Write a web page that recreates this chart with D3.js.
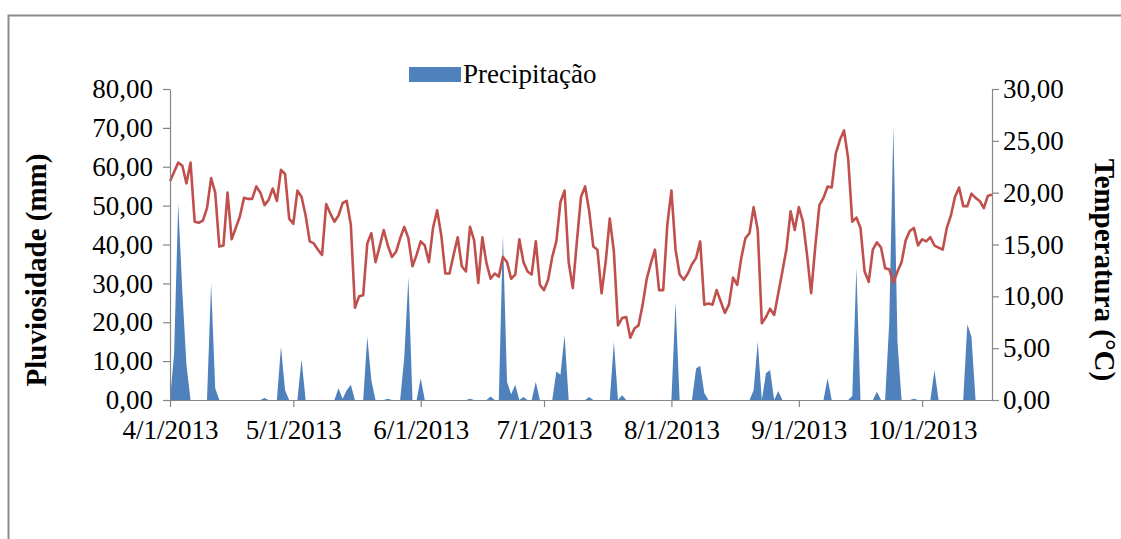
<!DOCTYPE html>
<html>
<head>
<meta charset="utf-8">
<script src="https://cdn.jsdelivr.net/npm/d3@7"></script>
<style>
  body { margin: 0; background: #fff; }
  text { font-family: 'Liberation Serif', 'Times New Roman', serif; fill: #000; }
  .axis path, .axis line { stroke: #868686; stroke-width: 1.2; }
  .axis text { font-size: 27px; }
  .title { font-size: 29px; font-weight: bold; }
</style>
</head>
<body>
<div id="chart"></div>
<script>
var width = 1121;
var height = 539;
var margin = { left: 170, right: 129, top: 89, bottom: 139 };

var startDate = '2013-04-01';
var endDate = '2013-10-18';

// mean daily temperature (°C), one value per day from 4/1/2013
var temperature = [
  21.1, 22.0, 22.9, 22.6, 20.9, 22.9, 17.2, 17.1, 17.3, 18.5, 21.4, 20.0, 14.8, 14.9, 20.0,
  15.5, 16.6, 17.7, 19.5, 19.4, 19.4, 20.6, 20.0, 18.8, 19.3, 20.4, 19.2, 22.2, 21.8,
  17.5, 17.0, 20.2, 19.6, 17.8, 15.3, 15.1, 14.5, 14.0, 18.9, 18.0, 17.2, 17.8, 19.0, 19.2,
  16.9, 8.9, 10.0, 10.1, 15.1, 16.1, 13.3, 14.8, 16.4, 14.9, 13.8, 14.3, 15.6, 16.7,
  15.6, 12.9, 14.0, 15.3, 14.9, 13.3, 16.6, 18.3, 15.9, 12.2, 12.2, 14.0, 15.7, 12.9, 12.4,
  16.7, 15.4, 11.3, 15.7, 13.2, 11.7, 12.2, 11.9, 13.8, 13.3, 11.7, 12.1, 15.5, 13.3,
  12.4, 12.1, 15.3, 11.1, 10.6, 11.6, 13.8, 15.3, 19.1, 20.2, 13.3, 10.8, 15.3, 19.6, 20.6,
  18.2, 14.8, 14.5, 10.3, 13.3, 17.5, 14.3, 7.2, 7.9, 8.0, 6.0, 6.9, 7.2, 9.2,
  11.7, 13.2, 14.5, 10.6, 10.6, 16.9, 20.2, 14.5, 12.1, 11.6, 12.2, 13.1, 13.7, 15.3, 9.2,
  9.3, 9.2, 10.6, 9.5, 8.4, 9.2, 11.8, 11.1, 13.7, 15.6, 16.1, 18.6, 16.4, 7.4,
  8.0, 8.8, 8.2, 10.3, 12.4, 14.6, 18.2, 16.4, 18.6, 17.2, 14.0, 10.3, 14.8, 18.8, 19.5,
  20.6, 20.5, 23.8, 25.1, 26.0, 23.3, 17.2, 17.6, 16.6, 12.4, 11.4, 14.5, 15.2, 14.7, 12.7,
  12.6, 11.3, 12.4, 13.3, 15.4, 16.3, 16.6, 14.9, 15.5, 15.3, 15.7, 14.9, 14.7, 14.5, 16.6,
  17.8, 19.6, 20.5, 18.7, 18.7, 19.9, 19.5, 19.2, 18.5, 19.7, 19.8
];

// rainy days (day number counted from 4/1/2013) and rainfall in mm; every other day is 0
var rainDay = [1, 2, 3, 4, 10, 11, 23, 27, 28, 32, 41, 42, 43, 44, 48, 49, 53, 57, 58, 61,
  73, 78, 81, 82, 83, 84, 86, 89, 94, 95, 96, 102, 108, 110, 123, 128, 129, 130,
  142, 143, 145, 146, 148, 160, 166, 167, 172, 175, 176, 177, 181, 186, 194, 195];
var rainMm = [12, 50.5, 28, 9, 30, 3, 0.5, 13.7, 2.5, 10.5, 3.0, 0.3, 2.5, 3.9, 16.3, 5, 0.3, 11, 31.5, 5.6,
  0.3, 0.9, 42.5, 4.7, 1.5, 3.9, 0.8, 4.7, 7.3, 6.5, 16.7, 0.8, 15.0, 1.2, 25.3, 8.1, 8.8, 1.8,
  2.5, 15.0, 6.9, 7.7, 2.3, 5.6, 1, 34.0, 2.1, 20, 70.5, 15, 0.3, 7.7, 19.5, 16.3];

var rainTicks = [0, 10, 20, 30, 40, 50, 60, 70, 80];
var tempTicks = [0, 5, 10, 15, 20, 25, 30];

var parse = d3.timeParse('%Y-%m-%d');
var day0 = parse(startDate);

var days = temperature.map(function(t, i) {
  return { date: d3.timeDay.offset(day0, i), temp: t, rain: 0 };
});
rainDay.forEach(function(d, i) {
  days[d].rain = rainMm[i];
});

var svg = d3.select('#chart').append('svg')
  .attr('width', width)
  .attr('height', height);

svg.append('rect')
  .attr('width', width)
  .attr('height', height)
  .attr('fill', '#fff');

// chart frame (only top and left edges are in the picture)
svg.append('rect')
  .attr('x', 8.5)
  .attr('y', 15.5)
  .attr('width', 1300)
  .attr('height', 700)
  .attr('fill', 'none')
  .attr('stroke', '#8c8c8c')
  .attr('stroke-width', 2);

var x = d3.scaleTime()
  .domain([day0, parse(endDate)])
  .range([margin.left, width - margin.right]);

var yRain = d3.scaleLinear()
  .domain([0, 80])
  .range([height - margin.bottom, margin.top]);

var yTemp = d3.scaleLinear()
  .domain([0, 30])
  .range([height - margin.bottom, margin.top]);

var comma = function(v) {
  return d3.format('.2f')(v).replace('.', ',');
};

var area = d3.area()
  .x(function(d) { return x(d.date); })
  .y0(yRain(0))
  .y1(function(d) { return yRain(d.rain); });

svg.append('path')
  .datum(days)
  .attr('fill', '#4f81bd')
  .attr('d', area);

var line = d3.line()
  .x(function(d) { return x(d.date); })
  .y(function(d) { return yTemp(d.temp); });

svg.append('path')
  .datum(days)
  .attr('fill', 'none')
  .attr('stroke', '#c0504d')
  .attr('stroke-width', 2.6)
  .attr('stroke-linejoin', 'round')
  .attr('d', line);

svg.append('g')
  .attr('class', 'axis')
  .attr('transform', 'translate(' + margin.left + ',0)')
  .call(d3.axisLeft(yRain).tickValues(rainTicks).tickFormat(comma).tickSize(7).tickPadding(10).tickSizeOuter(0));

svg.append('g')
  .attr('class', 'axis')
  .attr('transform', 'translate(' + (width - margin.right) + ',0)')
  .call(d3.axisRight(yTemp).tickValues(tempTicks).tickFormat(comma).tickSize(7).tickPadding(4).tickSizeOuter(0));

svg.append('g')
  .attr('class', 'axis')
  .attr('transform', 'translate(0,' + (height - margin.bottom) + ')')
  .call(d3.axisBottom(x).ticks(d3.timeMonth.every(1)).tickFormat(d3.timeFormat('%-m/%-d/%Y'))
    .tickSize(7).tickPadding(13).tickSizeOuter(0));

svg.append('text')
  .attr('class', 'title')
  .attr('text-anchor', 'middle')
  .attr('transform', 'translate(46,270) rotate(-90)')
  .text('Pluviosidade (mm)');

svg.append('text')
  .attr('class', 'title')
  .attr('text-anchor', 'middle')
  .attr('transform', 'translate(1095,270) rotate(90)')
  .text('Temperatura (°C)');

// legend
svg.append('rect')
  .attr('x', 409)
  .attr('y', 67)
  .attr('width', 52)
  .attr('height', 15)
  .attr('fill', '#4f81bd');

svg.append('text')
  .attr('x', 463)
  .attr('y', 83)
  .style('font-size', '27px')
  .text('Precipitação');
</script>
</body>
</html>
